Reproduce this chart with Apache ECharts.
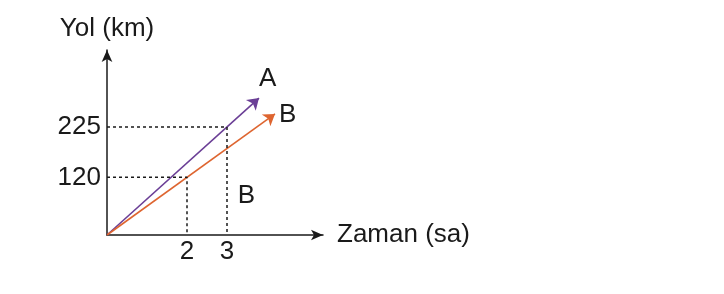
<!DOCTYPE html>
<html><head><meta charset="utf-8">
<script src="https://cdn.jsdelivr.net/npm/echarts@6/dist/echarts.min.js"></script>
<style>html,body{margin:0;padding:0;background:#fff}#c{width:724px;height:294px}</style>
</head><body><div id="c"></div>
<script>
// Data
const xTickValues = [2, 3];           // time (sa)
const yTickValues = [120, 225];       // distance (km)
const lineA = [[0, 0], [3.8, 285]];   // A: 225 km in 3 h
const lineB = [[0, 0], [4.2, 252]];   // B: 120 km in 2 h
const guideA = [[0, 225], [3, 225], [3, 0]];
const guideB = [[0, 120], [2, 120], [2, 0]];
const labelNames = ['A', 'B', 'B'];
const labelPoints = [[4.03, 323], [4.53, 250], [3.5, 81]];

const FONT = 'Liberation Sans, Arial, sans-serif';
const TXT = '#1a1a1a';
const FS = 26;
const chart = echarts.init(document.getElementById('c'), null, {renderer: 'canvas'});
chart.setOption({
  animation: false,
  backgroundColor: '#fff',
  grid: {left: 107, top: 50, width: 216, height: 185},
  xAxis: {
    type: 'value', min: 0, max: 5.4,
    name: 'Zaman (sa)', nameLocation: 'end', nameGap: 14,
    nameTextStyle: {fontFamily: FONT, fontSize: FS, color: TXT, verticalAlign: 'middle'},
    axisLine: {lineStyle: {color: TXT, width: 1.5}, symbol: ['none', 'arrow'], symbolSize: [8, 12]},
    axisTick: {show: false},
    splitLine: {show: false},
    axisLabel: {customValues: xTickValues, fontFamily: FONT, fontSize: FS, color: TXT, margin: 4}
  },
  yAxis: {
    type: 'value', min: 0, max: 385,
    name: 'Yol (km)', nameLocation: 'end', nameGap: 8,
    nameTextStyle: {fontFamily: FONT, fontSize: FS, color: TXT, align: 'center'},
    axisLine: {lineStyle: {color: TXT, width: 1.5}, symbol: ['none', 'arrow'], symbolSize: [8, 12]},
    axisTick: {show: false},
    splitLine: {show: false},
    axisLabel: {customValues: yTickValues, fontFamily: FONT, fontSize: FS, color: TXT, margin: 6}
  },
  series: [
    {type: 'line', data: guideA, symbol: 'none', lineStyle: {color: TXT, width: 1.5, type: [3, 3]}},
    {type: 'line', data: guideB, symbol: 'none', lineStyle: {color: TXT, width: 1.5, type: [3, 3]}},
    {type: 'lines', coordinateSystem: 'cartesian2d', symbol: ['none', 'arrow'], symbolSize: 11,
     lineStyle: {color: '#6b3f96', width: 1.6, opacity: 1}, data: [{coords: lineA}]},
    {type: 'lines', coordinateSystem: 'cartesian2d', symbol: ['none', 'arrow'], symbolSize: 11,
     lineStyle: {color: '#de6530', width: 1.6, opacity: 1}, data: [{coords: lineB}]},
    {type: 'scatter', symbolSize: 1, itemStyle: {opacity: 0},
     data: labelPoints.map((p, i) => ({value: p, name: labelNames[i]})),
     label: {show: true, position: [0, 0], align: 'center', verticalAlign: 'middle', formatter: '{b}',
             fontFamily: FONT, fontSize: FS, color: TXT, opacity: 1, textBorderWidth: 0}}
  ]
});
</script></body></html>
